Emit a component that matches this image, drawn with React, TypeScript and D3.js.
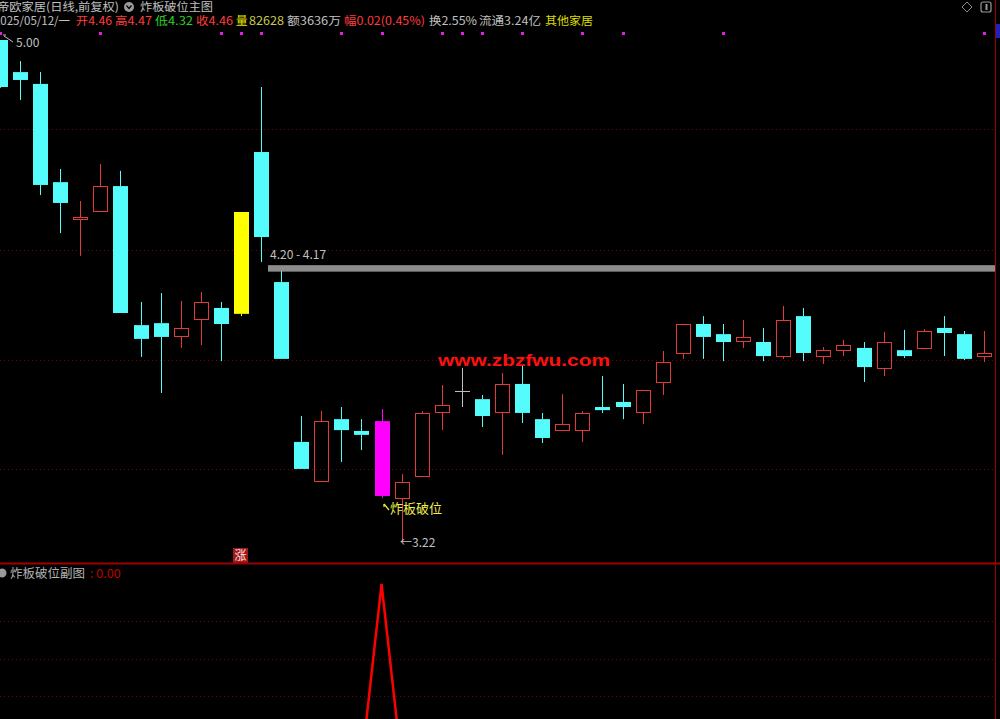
import React from "react";
import * as d3 from "d3";

// ---- data ----
const opens = [5.00,4.886,4.844,4.495,4.360,4.389,4.481,3.987,3.994,3.945,4.005,4.048,4.027,4.602,4.140,3.572,3.430,3.653,3.611,3.646,3.369,3.447,3.675,3.753,3.724,3.675,3.778,3.653,3.611,3.611,3.696,3.714,3.675,3.781,3.884,3.991,3.955,3.927,3.927,3.874,4.019,3.874,3.895,3.906,3.831,3.898,3.902,3.977,3.955,3.874];
const closes = [4.833,4.858,4.485,4.421,4.371,4.481,4.030,3.938,3.945,3.977,4.069,3.991,4.389,4.300,3.867,3.476,3.646,3.614,3.597,3.380,3.430,3.675,3.703,3.753,3.664,3.778,3.675,3.586,3.636,3.675,3.685,3.696,3.757,3.856,3.991,3.945,3.927,3.945,3.877,4.005,3.888,3.898,3.916,3.838,3.927,3.877,3.966,3.959,3.867,3.888];
const highs = [5.00,4.925,4.886,4.542,4.428,4.559,4.535,4.069,4.101,4.073,4.105,4.069,4.389,4.833,4.179,3.664,3.682,3.696,3.653,3.689,3.458,3.682,3.774,3.835,3.739,3.817,3.845,3.675,3.742,3.682,3.806,3.778,3.757,3.895,3.991,4.019,3.991,4.005,3.977,4.055,4.048,3.909,3.934,3.927,3.963,3.970,3.973,4.019,3.966,3.966];
const lows = [4.830,4.787,4.449,4.314,4.233,4.389,4.030,3.874,3.746,3.906,3.916,3.859,4.019,4.211,3.867,3.476,3.430,3.501,3.543,3.373,3.220,3.447,3.614,3.696,3.625,3.526,3.639,3.568,3.611,3.572,3.675,3.653,3.636,3.739,3.867,3.867,3.859,3.906,3.859,3.867,3.859,3.849,3.877,3.785,3.806,3.870,3.902,3.877,3.863,3.856];
const limitUpIdx = [12];
const signalIdx = [19];
const dotIdx = [0, 5, 11, 12, 13, 17, 19, 22, 23, 24, 26, 29, 31, 36, 49];
const subValues = opens.map((_, i) => (i === 19 ? 1 : 0));
const gridPrices = [4.684, 4.254, 3.863, 3.476];
const subGridValues = [0.794, 0.583, 0.378];
const bandTop = 4.20;
const bandBottom = 4.177;
const maxPrice = 5.00;
const minPrice = 3.22;

const FONT = "'Noto Sans CJK SC', 'Noto Sans', sans-serif";
const CYAN = "#54fcfc";
const RED = "#e23a3a";
const GRAY = "#c0c0c0";

// header segments: [text, x, width, color]
const headerSegs: [string, number, number, string][] = [
  ["2025/05/12/一", -6, 76, GRAY],
  ["开4.46", 76, 36, "#ff3c3c"],
  ["高4.47", 115, 37, "#ff3c3c"],
  ["低4.32", 155, 38, "#2ad02a"],
  ["收4.46", 196, 37, "#ff3c3c"],
  ["额3636万", 287, 54, GRAY],
  ["幅0.02(0.45%)", 344, 81, "#ff3c3c"],
  ["换2.55%", 429, 48, GRAY],
  ["流通3.24亿", 479, 62, GRAY],
  ["其他家居", 545, 48, "#dcdc00"],
];

export default function App() {
  const x = d3.scaleLinear().domain([0, 49]).range([0, 984]);
  const y = d3.scaleLinear().domain([minPrice, maxPrice]).range([541, 40]);
  const ys = d3.scaleLinear().domain([0, 1]).range([764, 584]);
  const bw = 15;

  const candles = opens.map((o, i) => {
    const c = closes[i], h = highs[i], l = lows[i];
    const cx = Math.round(x(i)) + 0.5;
    const top = y(Math.max(o, c));
    const bot = y(Math.min(o, c));
    const bh = Math.max(1, bot - top);
    let color = c > o ? RED : c < o ? CYAN : GRAY;
    let fill = c > o ? "none" : color;
    if (limitUpIdx.includes(i)) { color = "#ffff00"; fill = "#ffff00"; }
    if (signalIdx.includes(i)) { color = "#ff00ff"; fill = "#ff00ff"; }
    const left = cx - bw / 2;
    return (
      <g key={i}>
        <line x1={cx} x2={cx} y1={y(h)} y2={top} stroke={color} strokeWidth={1} />
        <line x1={cx} x2={cx} y1={top + bh} y2={y(l)} stroke={color} strokeWidth={1} />
        {fill === "none" ? (
          <rect x={left + 0.5} y={Math.round(top) + 0.5} width={bw - 1} height={Math.max(1, Math.round(bh) - 1)} fill="none" stroke={color} strokeWidth={1} />
        ) : (
          <rect x={left} y={top} width={bw} height={bh} fill={fill} />
        )}
      </g>
    );
  });

  const subLine = d3.line<number>().x((_, i) => x(i)).y((v) => ys(v));

  return (
    <svg width={1000} height={719} style={{ position: "fixed", left: 0, top: 0, background: "#000" }} fontFamily={FONT}>
      <rect x={0} y={0} width={1000} height={719} fill="#000" />
      <defs>
        <clipPath id="subclip"><rect x={0} y={565} width={995} height={154} /></clipPath>
      </defs>
      {/* header line 1 */}
      <text x={-3} y={11} fontSize={11.5} fill={GRAY} textLength={122} lengthAdjust="spacingAndGlyphs">帝欧家居(日线,前复权)</text>
      <circle cx={129} cy={7} r={5} fill="#9a9a9a" />
      <path d="M126.5,5.5 L129,8.5 L131.5,5.5" stroke="#000" strokeWidth={1.3} fill="none" />
      <text x={140} y={11} fontSize={11.5} fill={GRAY} textLength={73} lengthAdjust="spacingAndGlyphs">炸板破位主图</text>
      {/* header line 2 */}
      <g fontSize={11.5}>
        {headerSegs.map(([t, tx, tw, col], i) => (
          <text key={i} x={tx} y={25} fill={col} textLength={tw} lengthAdjust="spacingAndGlyphs">{t}</text>
        ))}
        <text x={236} y={25} fill="#e8e800">量</text>
        <text x={249} y={25} fill="#c8c850" textLength={35} lengthAdjust="spacingAndGlyphs">82628</text>
      </g>
      {/* top-right icons */}
      <path d="M967,2 L972,7 L967,12 L962,7 Z" fill="none" stroke="#888" strokeWidth={1} />
      <rect x={981} y={2} width={10} height={10} rx={2} fill="none" stroke="#999" strokeWidth={1.2} />
      <rect x={985.5} y={4} width={2} height={6} fill="#999" />
      {/* magenta dots */}
      {dotIdx.map((i) => (
        <rect key={i} x={Math.round(x(i)) - 1} y={32} width={3} height={3} fill="#e020e0" />
      ))}
      {/* grid */}
      {gridPrices.map((p, i) => (
        <line key={i} x1={0} x2={995} y1={Math.round(y(p)) + 0.5} y2={Math.round(y(p)) + 0.5} stroke="#7a0000" strokeDasharray="1,3" />
      ))}
      {/* gray band */}
      <rect x={268} y={y(bandTop)} width={728} height={y(bandBottom) - y(bandTop)} fill="#8c8c8c" />
      <text x={270} y={259} fontSize={12} fill={GRAY}>4.20 - 4.17</text>
      {/* candles */}
      {candles}
      {/* labels */}
      <line x1={4} y1={36} x2={13} y2={42} stroke={GRAY} strokeWidth={1} />
      <line x1={3} y1={35} x2={6} y2={35} stroke={GRAY} strokeWidth={1} />
      <text x={16} y={47} fontSize={12} fill={GRAY}>5.00</text>
      <line x1={384} y1={504} x2={389} y2={510} stroke="#f0f040" strokeWidth={1.2} />
      <line x1={384} y1={504} x2={384} y2={507} stroke="#f0f040" strokeWidth={1.2} />
      <text x={390} y={513} fontSize={13} fill="#f0f050">炸板破位</text>
      <text x={400} y={547} fontSize={12} fill={GRAY}>←3.22</text>
      <text x={438} y={366} fontSize={17} fontWeight="bold" fill="#ff1010" fontFamily="'Liberation Sans', Arial, sans-serif" textLength={172} lengthAdjust="spacingAndGlyphs">www.zbzfwu.com</text>
      {/* right edge */}
      <line x1={995.5} x2={995.5} y1={0} y2={719} stroke="#a00000" strokeWidth={1} />
      <rect x={996} y={24} width={4} height={14} fill="#2020c0" />
      {/* 涨 marker */}
      <rect x={233} y={548} width={15} height={15} fill="#a01818" />
      <text x={240.5} y={560} fontSize={12} fill="#ffe0e0" textAnchor="middle">涨</text>
      {/* panel divider */}
      <line x1={0} x2={1000} y1={563.5} y2={563.5} stroke="#a00000" strokeWidth={2} />
      {/* sub panel */}
      <circle cx={2} cy={573} r={4.5} fill="#9a9a9a" />
      <text x={10} y={578} fontSize={12.5} fill="#b4b4b4">炸板破位副图</text>
      <text x={90} y={578} fontSize={12.5} fill="#c00000">: 0.00</text>
      {subGridValues.map((v, i) => (
        <line key={i} x1={0} x2={995} y1={Math.round(ys(v)) + 0.5} y2={Math.round(ys(v)) + 0.5} stroke="#7a0000" strokeDasharray="1,3" />
      ))}
      <path d={subLine(subValues) || ""} fill="none" stroke="#ff0000" strokeWidth={2.5} clipPath="url(#subclip)" />
    </svg>
  );
}
